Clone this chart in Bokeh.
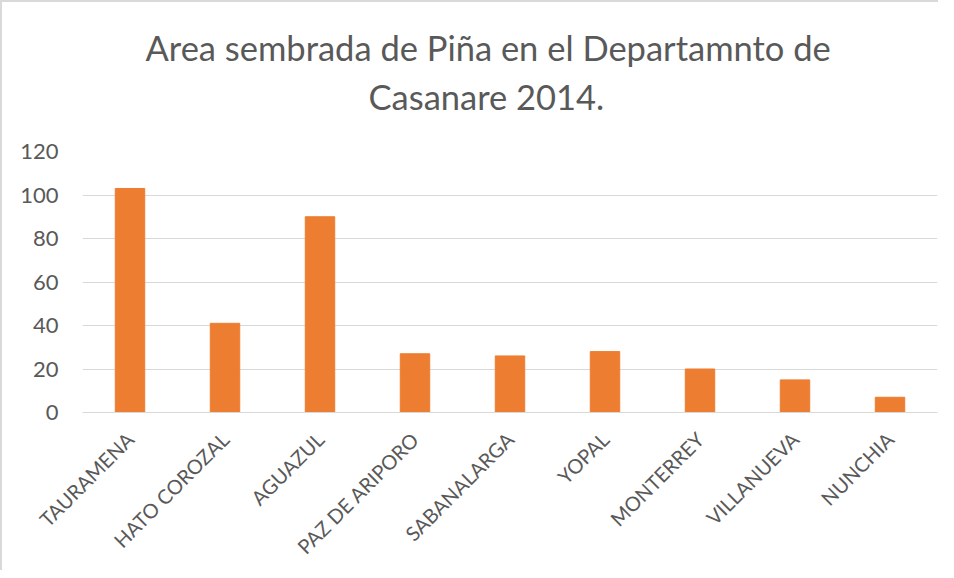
from bokeh.plotting import figure
from bokeh.models import FactorRange, Title
from bokeh.embed import file_html
from bokeh.resources import INLINE
import math

municipios = ["TAURAMENA", "HATO COROZAL", "AGUAZUL", "PAZ DE ARIPORO", "SABANALARGA",
              "YOPAL", "MONTERREY", "VILLANUEVA", "NUNCHIA"]
area = [103, 41, 90, 27, 26, 28, 20, 15, 7]
y_ticks = [0, 20, 40, 60, 80, 100, 120]
title_lines = ["Area sembrada de Piña en el Departamnto de", "Casanare 2014."]

FONT = "Lato"
GREY = "#595959"

p = figure(x_range=FactorRange(factors=municipios, range_padding=0), y_range=(0, 120),
           width=938, height=570, output_backend="svg", toolbar_location=None,
           min_border_left=80, min_border_right=3, min_border_top=149, min_border_bottom=160)

p.vbar(x=municipios, top=area, width=0.31, color="#ED7D31")

p.outline_line_color = None
p.xgrid.grid_line_color = None
p.ygrid.grid_line_color = "#d9d9d9"
p.ygrid.grid_line_width = 1
p.yaxis.ticker = y_ticks
p.yaxis.axis_line_color = None
p.yaxis.major_tick_line_color = None
p.yaxis.minor_tick_line_color = None
p.yaxis.major_label_standoff = 18
p.yaxis.major_label_text_font = FONT
p.yaxis.major_label_text_font_size = "22px"
p.yaxis.major_label_text_color = GREY

p.xaxis.axis_line_color = "#d9d9d9"
p.xaxis.major_tick_line_color = None
p.xaxis.minor_tick_line_color = None
p.xaxis.major_label_orientation = math.pi / 4
p.xaxis.major_label_standoff = 17
p.xaxis.major_label_text_font = FONT
p.xaxis.major_label_text_font_size = "20px"
p.xaxis.major_label_text_color = GREY

# second line first (closest to the plot), then first line above it
p.add_layout(Title(text=title_lines[1], align="left", offset=286, standoff=70,
                   text_font=FONT, text_font_size="34.5px", text_font_style="normal",
                   text_color=GREY), "above")
p.add_layout(Title(text=title_lines[0], align="left", offset=63, standoff=-59,
                   text_font=FONT, text_font_size="34.5px", text_font_style="normal",
                   text_color=GREY), "above")

p.styles = {"border-top": "2px solid #d9d9d9", "border-left": "2px solid #d9d9d9"}

open("out.html", "w").write(file_html(p, INLINE))
